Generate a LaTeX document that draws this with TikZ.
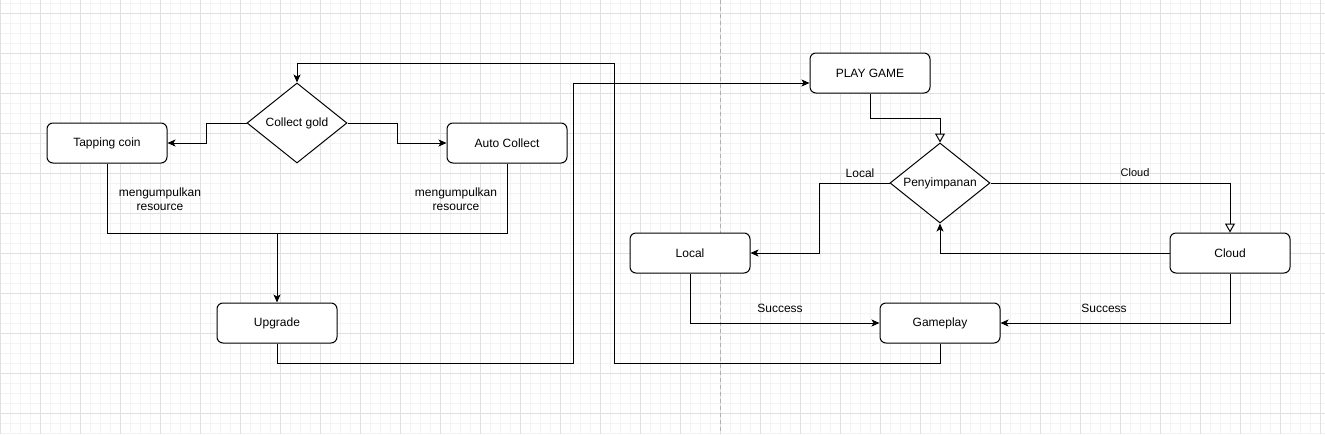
\documentclass[tikz,border=0pt]{standalone}
\usepackage{fontspec}
\setmainfont{Liberation Sans}
\usetikzlibrary{arrows.meta,shapes.geometric,calc}
\definecolor{minorc}{HTML}{F3F3F3}
\definecolor{majorc}{HTML}{E0E0E0}
\definecolor{dashc}{HTML}{B0B0B0}
\tikzset{
  box/.style={draw, line width=1pt, rounded corners=6pt, minimum width=120pt, minimum height=40pt, inner sep=0pt, fill=white, font=\fontsize{12pt}{14pt}\selectfont},
  dia/.style={draw, line width=1pt, diamond, aspect=1.25, minimum width=100pt, minimum height=80pt, inner sep=0pt, fill=white, font=\fontsize{12pt}{14pt}\selectfont},
  conn/.style={line width=1pt, line join=miter},
  arr/.style={conn, -{Stealth[length=8pt,width=7pt,inset=2pt]}},
  oarr/.style={conn, -{Triangle[open,length=9pt,width=10pt,line width=1pt]}},
  lbl/.style={inner sep=0pt, font=\fontsize{12pt}{14pt}\selectfont, align=center},
  slbl/.style={inner sep=0pt, font=\fontsize{11pt}{13pt}\selectfont},
}
\begin{document}
\begin{tikzpicture}[x=1pt,y=-1pt]
\useasboundingbox (0,0) rectangle (1325,434);
\fill[white] (0,0) rectangle (1325,434);
% grid
\foreach \x in {0,10,...,1320} \draw[minorc, line width=1pt] (\x,0) -- (\x,434);
\foreach \y in {3,13,...,433} \draw[minorc, line width=1pt] (0,\y) -- (1325,\y);
\foreach \x in {0,40,...,1320} \draw[majorc, line width=1pt] (\x,0) -- (\x,434);
\foreach \y in {13,53,...,413} \draw[majorc, line width=1pt] (0,\y) -- (1325,\y);
\draw[dashc, line width=1pt, dash pattern=on 4pt off 3pt] (720,0) -- (720,434);

% nodes
\node[box] (tap) at (107,143) {Tapping coin};
\node[dia] (cg) at (297,123) {Collect gold};
\node[box] (auto) at (507,143) {Auto Collect};
\node[box] (up) at (277,323) {Upgrade};
\node[box] (pg) at (870,73) {PLAY GAME};
\node[dia] (pe) at (940,183) {Penyimpanan};
\node[box] (lo) at (690,253) {Local};
\node[box] (cl) at (1230,253) {Cloud};
\node[box] (gp) at (940,323) {Gameplay};

\coordinate (j1) at (277,233);
\coordinate (u1) at (573,363);
\coordinate (u2) at (573,83);
\coordinate (g1) at (614,363);
\coordinate (g2) at (614,63);

% connectors
\draw[arr] (cg.west) -- ++(-40,0) |- (tap.east);
\draw[arr] (cg.east) -- ++(50,0) |- (auto.west);
\draw[conn] (auto.south) |- (j1);
\draw[arr] (tap.south) |- (j1) -- (up.north);
\draw[arr] (up.south) |- (u1) -- (u2) -- ($(pg.west)+(0,10)$);
\draw[arr] (gp.south) |- (g1) -- (g2) -| (cg.north);
\draw[oarr] (pg.south) -- ++(0,25) -| (pe.north);
\draw[arr] (pe.west) -- ++(-70,0) |- (lo.east);
\draw[oarr] (pe.east) -| (cl.north);
\draw[arr] (cl.west) -| (pe.south);
\draw[arr] (lo.south) |- (gp.west);
\draw[arr] (cl.south) |- (gp.east);

% labels
\node[lbl] (l1) at (160,199) {mengumpulkan\\resource};
\node[lbl] (l2) at (456,199) {mengumpulkan\\resource};
\node[lbl] (l3) at (860,173) {Local};
\node[slbl] (l4) at (1135,173) {Cloud};
\node[lbl] (l5) at (780,308) {Success};
\node[lbl] (l6) at (1104,308) {Success};
\end{tikzpicture}
\end{document}
